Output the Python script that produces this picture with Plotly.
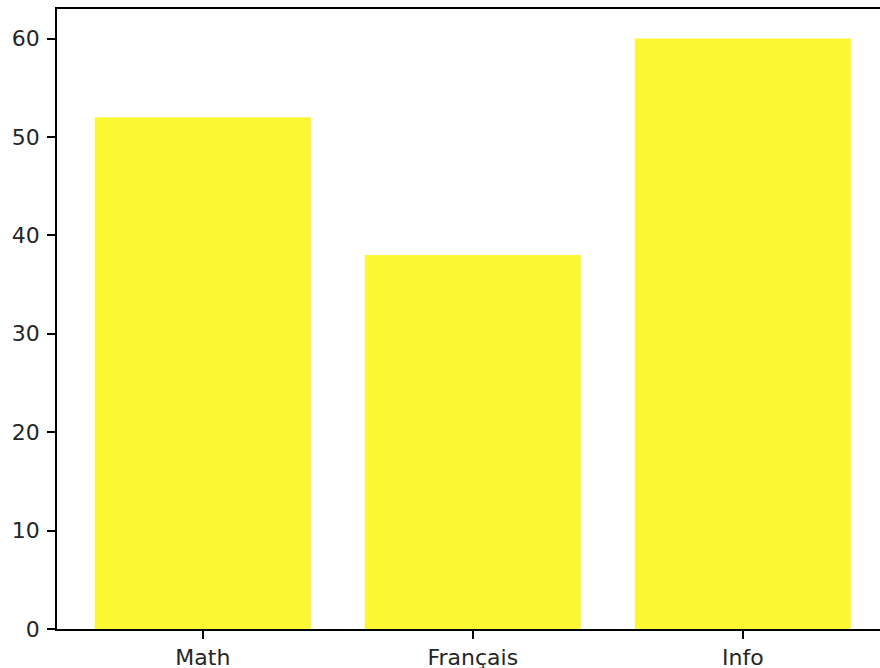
import plotly.graph_objects as go

# Scores per subject
subjects = ["Math", "Français", "Info"]
scores = [52, 38, 60]

bar_color = "#fcf733"
axis_color = "#000000"
text_color = "#262626"
font_family = "DejaVu Sans"
font_size = 22

fig = go.Figure(
    go.Bar(
        x=subjects,
        y=scores,
        marker=dict(color=bar_color, line=dict(width=0)),
        width=0.8,
    )
)

fig.update_layout(
    width=880,
    height=668,
    margin=dict(l=57, r=0, t=9, b=39, pad=0),
    paper_bgcolor="white",
    plot_bgcolor="white",
    showlegend=False,
    font=dict(family=font_family, size=font_size, color=text_color),
)

fig.update_xaxes(
    range=[-0.54, 2.508],
    automargin=False,
    showline=True,
    linecolor=axis_color,
    linewidth=1.5,
    mirror=True,
    ticks="outside",
    ticklen=8,
    tickwidth=1.5,
    tickcolor=axis_color,
    showgrid=False,
    zeroline=False,
    tickfont=dict(family=font_family, size=font_size, color=text_color),
)

fig.update_yaxes(
    range=[0, 63],
    dtick=10,
    tick0=0,
    automargin=False,
    showline=True,
    linecolor=axis_color,
    linewidth=1.5,
    mirror=False,
    ticks="outside",
    ticklen=8,
    tickwidth=1.5,
    tickcolor=axis_color,
    ticklabelstandoff=3,
    showgrid=False,
    zeroline=False,
    tickfont=dict(family=font_family, size=font_size, color=text_color),
)

fig.write_html("out.html")
